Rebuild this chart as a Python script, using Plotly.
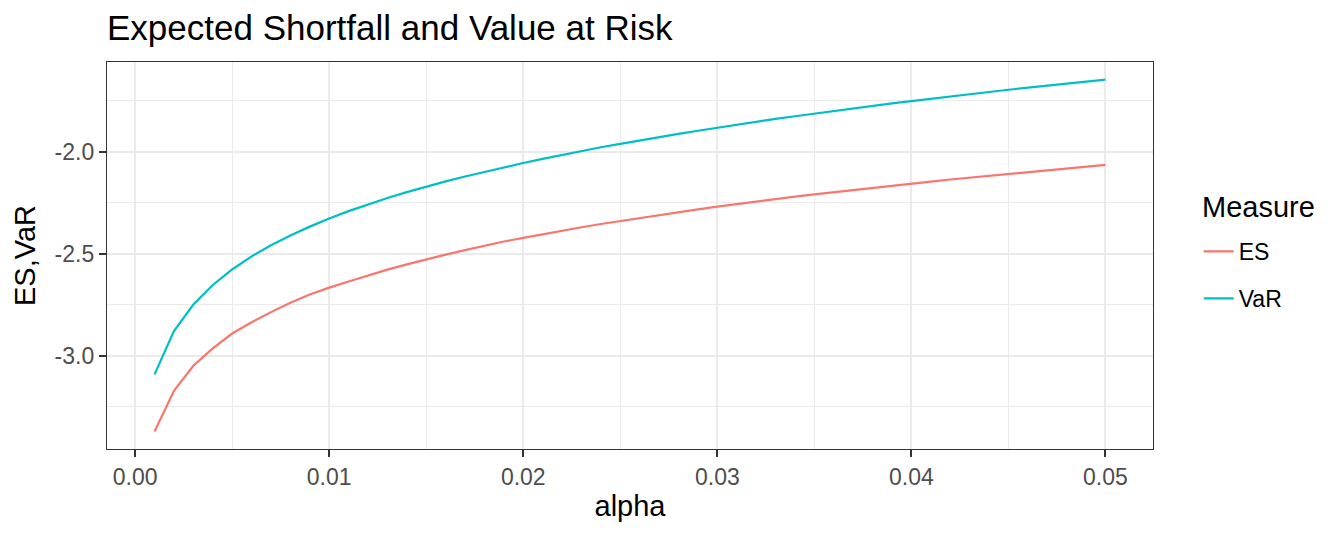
import plotly.graph_objects as go

# tail probability levels
alpha = [round(0.001 * i, 3) for i in range(1, 51)]

# expected shortfall
es = [-3.370, -3.171, -3.048, -2.963, -2.890, -2.835, -2.785, -2.739, -2.699, -2.665,
      -2.635, -2.605, -2.577, -2.551, -2.526, -2.503, -2.481, -2.459, -2.439, -2.421,
      -2.403, -2.386, -2.369, -2.353, -2.338, -2.323, -2.309, -2.295, -2.281, -2.268,
      -2.255, -2.243, -2.231, -2.219, -2.208, -2.197, -2.186, -2.175, -2.165, -2.155,
      -2.145, -2.135, -2.126, -2.116, -2.107, -2.098, -2.089, -2.080, -2.072, -2.063]

# value at risk
var = [-3.090, -2.878, -2.748, -2.652, -2.576, -2.512, -2.457, -2.409, -2.366, -2.326,
       -2.290, -2.257, -2.226, -2.197, -2.170, -2.144, -2.120, -2.097, -2.075, -2.054,
       -2.034, -2.014, -1.995, -1.977, -1.960, -1.943, -1.927, -1.911, -1.896, -1.881,
       -1.866, -1.852, -1.838, -1.825, -1.812, -1.799, -1.787, -1.774, -1.762, -1.751,
       -1.739, -1.728, -1.717, -1.706, -1.695, -1.685, -1.675, -1.665, -1.655, -1.645]

x_ticks = [0.0, 0.01, 0.02, 0.03, 0.04, 0.05]
x_labels = ["0.00", "0.01", "0.02", "0.03", "0.04", "0.05"]
y_ticks = [-3.0, -2.5, -2.0]
y_labels = ["-3.0", "-2.5", "-2.0"]

fig = go.Figure()
fig.add_trace(go.Scatter(x=alpha, y=es, mode="lines", name="ES", legendgroup="ES",
                         line=dict(color="#F8766D", width=2.2)))
fig.add_trace(go.Scatter(x=alpha, y=var, mode="lines", name="VaR", legendgroup="VaR",
                         line=dict(color="#00BFC4", width=2.2)))

axis_common = dict(
    showline=True, linecolor="#333333", linewidth=1.3, mirror=True,
    ticks="outside", ticklen=7, tickwidth=1.5, tickcolor="#333333",
    tickfont=dict(size=23, color="#4d4d4d"),
    showgrid=True, gridcolor="#ebebeb", gridwidth=2.2,
    zeroline=False,
)

fig.update_xaxes(range=[-0.00145, 0.05245], tickvals=x_ticks, ticktext=x_labels,
                 title=dict(text="alpha", font=dict(size=29, color="black"), standoff=6),
                 minor=dict(tickvals=[0.005, 0.015, 0.025, 0.035, 0.045],
                            showgrid=True, gridcolor="#ebebeb", gridwidth=1.1, ticks=""),
                 **axis_common)
fig.update_yaxes(range=[-3.456, -1.559], tickvals=y_ticks, ticktext=y_labels,
                 title=dict(text="ES,VaR", font=dict(size=29, color="black"), standoff=10),
                 minor=dict(tickvals=[-3.25, -2.75, -2.25, -1.75],
                            showgrid=True, gridcolor="#ebebeb", gridwidth=1.1, ticks=""),
                 **axis_common)

# legend title drawn as an annotation so its gap to the entries can be set
fig.add_annotation(text="Measure", xref="paper", yref="paper", x=1.045, y=0.625,
                   xanchor="left", yanchor="middle", showarrow=False,
                   font=dict(size=29, color="black"))

# the page body adds an 8px offset, so margins are shifted by that amount
fig.update_layout(
    width=1344, height=537,
    margin=dict(l=99, r=199, t=54, b=96),
    plot_bgcolor="white", paper_bgcolor="white",
    font=dict(family="Liberation Sans, Arial, sans-serif"),
    title=dict(text="Expected Shortfall and Value at Risk", x=99 / 1344, xanchor="left",
               y=0.963, yanchor="middle", font=dict(size=35, color="black")),
    legend=dict(x=1.0437, xanchor="left", y=0.566, yanchor="top",
                font=dict(size=23, color="black"), tracegroupgap=14,
                traceorder="grouped"),
)

fig.write_html("out.html")
